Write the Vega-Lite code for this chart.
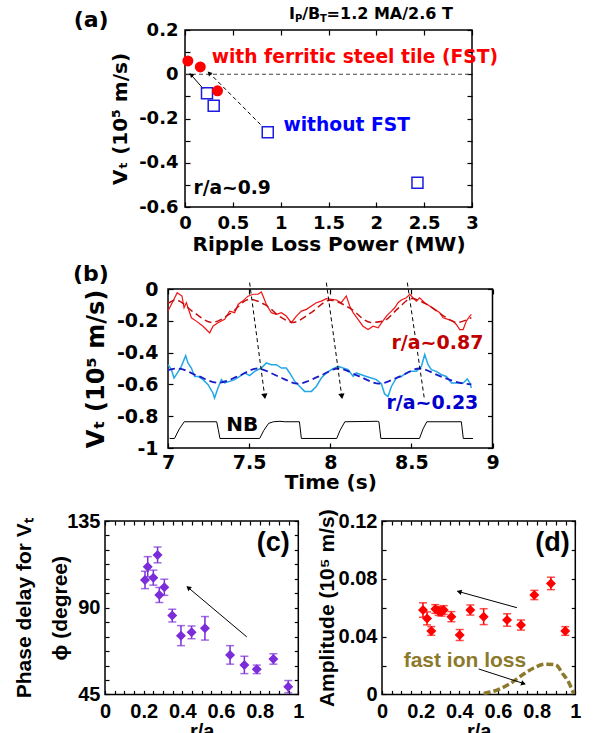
{
"$schema": "https://vega.github.io/schema/vega-lite/v6.json",
"background": "white",
"padding": {"left": 0, "top": 5, "right": 0, "bottom": 0},
"config": {
  "view": {"stroke": "black", "strokeWidth": 1.5},
  "axis": {"grid": false, "domain": false, "labelFont": "DejaVu Sans", "labelFontWeight": "bold", "labelColor": "black", "titleFont": "DejaVu Sans", "titleFontWeight": "bold", "titleColor": "black", "tickColor": "black", "tickWidth": 1.2, "labelFlush": false, "labelOverlap": false, "labelBound": false},
  "text": {"font": "DejaVu Sans", "fontWeight": "bold", "align": "left", "baseline": "middle"}
},
"datasets": {
  "a_fst": [{"x":0.03,"y":0.06},{"x":0.16,"y":0.033},{"x":0.34,"y":-0.075}],
  "a_nofst": [{"x":0.23,"y":-0.086},{"x":0.30,"y":-0.142},{"x":0.865,"y":-0.262},{"x":2.43,"y":-0.49}],
  "a_zero": [{"x":0,"x2":3,"y":0}],
  "a_arrow_solid": [{"x":0.19,"y":-0.065},{"x":0.05,"y":0.004}],
  "a_arrow_dashed": [{"x":0.80,"y":-0.232},{"x":0.245,"y":0.01}],
  "a_heads": [{"x":0.065,"y":-0.002},{"x":0.253,"y":0.005}],
  "a_t_panel": [{"x":-1.164,"y":0.245,"label":"(a)"}],
  "a_t_red": [{"x":0.279,"y":0.077,"label":"with ferritic steel tile (FST)"}],
  "a_t_blue": [{"x":1.029,"y":-0.229,"label":"without FST"}],
  "a_t_black": [{"x":0.088,"y":-0.514,"label":"r/a~0.9"}],
  "a_t_main": [{"x":1.088,"y":0.272,"label":"I"},{"x":1.225,"y":0.272,"label":"/B"},{"x":1.48,"y":0.272,"label":"=1.2 MA/2.6 T"}],
  "a_t_sub": [{"x":1.151,"y":0.25,"label":"P"},{"x":1.41,"y":0.25,"label":"T"}],
  "b_red": [{"x":7.0,"y":-0.139},{"x":7.057,"y":-0.023},{"x":7.086,"y":-0.044},{"x":7.099,"y":-0.118},{"x":7.113,"y":-0.086},{"x":7.144,"y":-0.181},{"x":7.174,"y":-0.202},{"x":7.216,"y":-0.234},{"x":7.257,"y":-0.276},{"x":7.277,"y":-0.234},{"x":7.308,"y":-0.212},{"x":7.349,"y":-0.191},{"x":7.38,"y":-0.139},{"x":7.411,"y":-0.149},{"x":7.432,"y":-0.097},{"x":7.46,"y":-0.076},{"x":7.493,"y":-0.045},{"x":7.524,"y":-0.033},{"x":7.555,"y":-0.033},{"x":7.575,"y":-0.019},{"x":7.586,"y":-0.044},{"x":7.606,"y":-0.097},{"x":7.637,"y":-0.149},{"x":7.668,"y":-0.16},{"x":7.699,"y":-0.149},{"x":7.729,"y":-0.17},{"x":7.76,"y":-0.212},{"x":7.791,"y":-0.17},{"x":7.822,"y":-0.139},{"x":7.853,"y":-0.128},{"x":7.884,"y":-0.107},{"x":7.914,"y":-0.086},{"x":7.945,"y":-0.076},{"x":7.976,"y":-0.061},{"x":8.007,"y":-0.065},{"x":8.038,"y":-0.069},{"x":8.068,"y":-0.086},{"x":8.099,"y":-0.044},{"x":8.12,"y":-0.107},{"x":8.141,"y":-0.149},{"x":8.171,"y":-0.191},{"x":8.202,"y":-0.234},{"x":8.233,"y":-0.255},{"x":8.264,"y":-0.234},{"x":8.295,"y":-0.244},{"x":8.315,"y":-0.215},{"x":8.346,"y":-0.17},{"x":8.377,"y":-0.139},{"x":8.397,"y":-0.118},{"x":8.418,"y":-0.086},{"x":8.438,"y":-0.069},{"x":8.469,"y":-0.055},{"x":8.49,"y":-0.033},{"x":8.51,"y":-0.055},{"x":8.531,"y":-0.076},{"x":8.551,"y":-0.055},{"x":8.582,"y":-0.086},{"x":8.613,"y":-0.107},{"x":8.644,"y":-0.128},{"x":8.675,"y":-0.149},{"x":8.695,"y":-0.181},{"x":8.726,"y":-0.191},{"x":8.757,"y":-0.202},{"x":8.777,"y":-0.223},{"x":8.798,"y":-0.255},{"x":8.819,"y":-0.255},{"x":8.839,"y":-0.202},{"x":8.86,"y":-0.17},{"x":8.87,"y":-0.16}],
  "b_redfit": [{"x":7.0,"y":-0.09},{"x":7.05,"y":-0.07},{"x":7.15,"y":-0.14},{"x":7.27,"y":-0.21},{"x":7.39,"y":-0.15},{"x":7.5,"y":-0.065},{"x":7.6,"y":-0.1},{"x":7.7,"y":-0.18},{"x":7.77,"y":-0.21},{"x":7.88,"y":-0.15},{"x":8.0,"y":-0.07},{"x":8.12,"y":-0.12},{"x":8.25,"y":-0.21},{"x":8.33,"y":-0.2},{"x":8.42,"y":-0.12},{"x":8.5,"y":-0.06},{"x":8.6,"y":-0.1},{"x":8.7,"y":-0.17},{"x":8.78,"y":-0.21},{"x":8.87,"y":-0.18}],
  "b_cyan": [{"x":7.0,"y":-0.476},{"x":7.021,"y":-0.507},{"x":7.037,"y":-0.56},{"x":7.051,"y":-0.539},{"x":7.078,"y":-0.497},{"x":7.099,"y":-0.444},{"x":7.109,"y":-0.419},{"x":7.123,"y":-0.465},{"x":7.144,"y":-0.497},{"x":7.164,"y":-0.55},{"x":7.185,"y":-0.55},{"x":7.216,"y":-0.57},{"x":7.247,"y":-0.602},{"x":7.277,"y":-0.654},{"x":7.287,"y":-0.686},{"x":7.308,"y":-0.623},{"x":7.329,"y":-0.57},{"x":7.349,"y":-0.591},{"x":7.38,"y":-0.581},{"x":7.411,"y":-0.57},{"x":7.442,"y":-0.55},{"x":7.472,"y":-0.528},{"x":7.503,"y":-0.545},{"x":7.534,"y":-0.518},{"x":7.575,"y":-0.497},{"x":7.606,"y":-0.465},{"x":7.637,"y":-0.476},{"x":7.668,"y":-0.476},{"x":7.699,"y":-0.497},{"x":7.729,"y":-0.497},{"x":7.75,"y":-0.528},{"x":7.781,"y":-0.581},{"x":7.812,"y":-0.613},{"x":7.842,"y":-0.644},{"x":7.884,"y":-0.644},{"x":7.914,"y":-0.613},{"x":7.945,"y":-0.56},{"x":7.976,"y":-0.528},{"x":8.007,"y":-0.507},{"x":8.048,"y":-0.486},{"x":8.079,"y":-0.497},{"x":8.11,"y":-0.507},{"x":8.141,"y":-0.55},{"x":8.161,"y":-0.528},{"x":8.192,"y":-0.539},{"x":8.223,"y":-0.55},{"x":8.253,"y":-0.56},{"x":8.284,"y":-0.57},{"x":8.315,"y":-0.596},{"x":8.335,"y":-0.66},{"x":8.356,"y":-0.676},{"x":8.377,"y":-0.613},{"x":8.407,"y":-0.56},{"x":8.438,"y":-0.55},{"x":8.469,"y":-0.528},{"x":8.5,"y":-0.518},{"x":8.531,"y":-0.518},{"x":8.562,"y":-0.486},{"x":8.582,"y":-0.412},{"x":8.603,"y":-0.476},{"x":8.623,"y":-0.507},{"x":8.654,"y":-0.518},{"x":8.685,"y":-0.539},{"x":8.716,"y":-0.55},{"x":8.747,"y":-0.591},{"x":8.788,"y":-0.591},{"x":8.819,"y":-0.591},{"x":8.845,"y":-0.566},{"x":8.86,"y":-0.591},{"x":8.87,"y":-0.623}],
  "b_bluefit": [{"x":7.0,"y":-0.51},{"x":7.06,"y":-0.5},{"x":7.18,"y":-0.545},{"x":7.31,"y":-0.59},{"x":7.43,"y":-0.55},{"x":7.55,"y":-0.5},{"x":7.68,"y":-0.55},{"x":7.8,"y":-0.595},{"x":7.93,"y":-0.55},{"x":8.05,"y":-0.5},{"x":8.18,"y":-0.55},{"x":8.3,"y":-0.595},{"x":8.43,"y":-0.55},{"x":8.55,"y":-0.5},{"x":8.68,"y":-0.55},{"x":8.8,"y":-0.59},{"x":8.87,"y":-0.6}],
  "b_nb": [{"x":7.01,"y":-0.94},{"x":7.04,"y":-0.94},{"x":7.07,"y":-0.88},{"x":7.1,"y":-0.835},{"x":7.3,"y":-0.835},{"x":7.31,"y":-0.885},{"x":7.32,"y":-0.94},{"x":7.565,"y":-0.94},{"x":7.59,"y":-0.89},{"x":7.62,"y":-0.845},{"x":7.65,"y":-0.835},{"x":7.69,"y":-0.832},{"x":7.72,"y":-0.835},{"x":7.81,"y":-0.835},{"x":7.822,"y":-0.94},{"x":8.04,"y":-0.94},{"x":8.06,"y":-0.89},{"x":8.09,"y":-0.835},{"x":8.29,"y":-0.832},{"x":8.3,"y":-0.835},{"x":8.312,"y":-0.94},{"x":8.55,"y":-0.94},{"x":8.572,"y":-0.88},{"x":8.595,"y":-0.835},{"x":8.808,"y":-0.835},{"x":8.82,"y":-0.94},{"x":8.88,"y":-0.94}],
  "b_arrows": [{"id":1,"x":7.503,"y":0.04},{"id":1,"x":7.598,"y":-0.69},{"id":2,"x":7.976,"y":0.04},{"id":2,"x":8.073,"y":-0.69},{"id":3,"x":8.475,"y":0.04},{"id":3,"x":8.58,"y":-0.69}],
  "b_heads": [{"x":7.596,"y":-0.675},{"x":8.071,"y":-0.675}],
  "b_t_panel": [{"x":6.414,"y":0.093,"label":"(b)"}],
  "b_t_red": [{"x":8.377,"y":-0.339,"label":"r/a~0.87"}],
  "b_t_blue": [{"x":8.346,"y":-0.718,"label":"r/a~0.23"}],
  "b_t_nb": [{"x":7.359,"y":-0.855,"label":"NB"}],
  "c_pts": [{"x":0.207,"y":104.4,"lo":99.9,"hi":108.9},{"x":0.221,"y":111.3,"lo":106.1,"hi":116.5},{"x":0.25,"y":105.6,"lo":101.7,"hi":109.5},{"x":0.272,"y":117.4,"lo":113.3,"hi":121.5},{"x":0.281,"y":96.6,"lo":92.7,"hi":100.5},{"x":0.307,"y":100.6,"lo":96.4,"hi":104.8},{"x":0.348,"y":85.9,"lo":82.6,"hi":89.2},{"x":0.393,"y":75.5,"lo":70.3,"hi":80.7},{"x":0.448,"y":77.2,"lo":73.9,"hi":80.5},{"x":0.517,"y":79.3,"lo":73.2,"hi":85.4},{"x":0.647,"y":65.5,"lo":60.7,"hi":70.3},{"x":0.721,"y":60.3,"lo":55.8,"hi":64.8},{"x":0.785,"y":58.0,"lo":55.8,"hi":60.2},{"x":0.871,"y":63.4,"lo":60.7,"hi":66.1},{"x":0.948,"y":49.0,"lo":45.8,"hi":52.2}],
  "c_arrow": [{"x":0.733,"y":74.9},{"x":0.425,"y":100.9}],
  "c_head": [{"x":0.431,"y":100.4}],
  "c_t_panel": [{"x":0.785,"y":123.4,"label":"(c)"}],
  "d_pts": [{"x":0.212,"y":0.0584,"lo":0.0534,"hi":0.0634},{"x":0.233,"y":0.0526,"lo":0.0481,"hi":0.0571},{"x":0.255,"y":0.0439,"lo":0.0409,"hi":0.0469},{"x":0.276,"y":0.0591,"lo":0.0561,"hi":0.0621},{"x":0.293,"y":0.0577,"lo":0.0547,"hi":0.0607},{"x":0.307,"y":0.0572,"lo":0.0542,"hi":0.0602},{"x":0.319,"y":0.0584,"lo":0.0554,"hi":0.0614},{"x":0.359,"y":0.0538,"lo":0.0503,"hi":0.0573},{"x":0.402,"y":0.0411,"lo":0.0373,"hi":0.0449},{"x":0.457,"y":0.0584,"lo":0.0549,"hi":0.0619},{"x":0.526,"y":0.0538,"lo":0.0483,"hi":0.0593},{"x":0.647,"y":0.0515,"lo":0.0472,"hi":0.0558},{"x":0.719,"y":0.048,"lo":0.0445,"hi":0.0515},{"x":0.788,"y":0.0688,"lo":0.0656,"hi":0.072},{"x":0.874,"y":0.0768,"lo":0.0725,"hi":0.0811},{"x":0.948,"y":0.0439,"lo":0.0409,"hi":0.0469}],
  "d_loss": [{"x":0.526,"y":0.0007},{"x":0.595,"y":0.003},{"x":0.664,"y":0.0076},{"x":0.733,"y":0.0141},{"x":0.785,"y":0.0183},{"x":0.845,"y":0.0209},{"x":0.897,"y":0.0205},{"x":0.936,"y":0.0141},{"x":0.966,"y":0.0083},{"x":0.992,"y":0.0003}],
  "d_arrow1": [{"x":0.698,"y":0.06},{"x":0.39,"y":0.0714}],
  "d_head1": [{"x":0.399,"y":0.0711}],
  "d_arrow2": [{"x":0.5,"y":0.0176},{"x":0.74,"y":0.0072}],
  "d_head2": [{"x":0.732,"y":0.0075}],
  "d_t_panel": [{"x":0.793,"y":0.1045,"label":"(d)"}],
  "d_t_loss": [{"x":0.112,"y":0.0231,"label":"fast ion loss"}]
},
"spacing": 15,
"vconcat": [
  {"spacing": 7, "vconcat": [
    {"spacing": 0, "hconcat": [
      {"width": 72, "height": 10, "view": {"stroke": null}, "data": {"values": []}, "mark": "point", "encoding": {}},
      {
        "width": 287, "height": 177,
        "encoding": {
          "x": {"field": "x", "type": "quantitative", "scale": {"domain": [0, 3], "nice": false, "zero": false}, "axis": null},
          "y": {"field": "y", "type": "quantitative", "scale": {"domain": [-0.6, 0.2], "nice": false, "zero": false}, "axis": null}
        },
        "layer": [
          {"data": {"name": "a_zero"}, "mark": {"type": "rule", "color": "#444444", "strokeWidth": 1, "strokeDash": [4, 3]}, "encoding": {"x2": {"field": "x2"}}},
          {"data": {"name": "a_arrow_solid"}, "mark": {"type": "line", "color": "black", "strokeWidth": 1}},
          {"data": {"name": "a_arrow_dashed"}, "mark": {"type": "line", "color": "black", "strokeWidth": 1, "strokeDash": [4, 3]}},
          {"data": {"name": "a_heads"}, "mark": {"type": "point", "shape": "triangle-up", "filled": true, "color": "black", "opacity": 1, "size": 25, "angle": 315}},
          {"data": {"name": "a_nofst"}, "mark": {"type": "point", "shape": "square", "filled": false, "color": "#1c1ce0", "opacity": 1, "size": 121, "strokeWidth": 1.5},
           "encoding": {
             "x": {"field": "x", "type": "quantitative", "scale": {"domain": [0, 3], "nice": false, "zero": false}, "axis": {"orient": "top", "values": [0, 0.5, 1, 1.5, 2, 2.5, 3], "labels": false, "tickSize": -5, "title": null}},
             "y": {"field": "y", "type": "quantitative", "scale": {"domain": [-0.6, 0.2], "nice": false, "zero": false}, "axis": {"orient": "right", "values": [-0.6, -0.5, -0.4, -0.3, -0.2, -0.1, 0, 0.1, 0.2], "labels": false, "tickSize": -5, "title": null}}
           }},
          {"data": {"name": "a_fst"}, "mark": {"type": "circle", "color": "#ff0000", "opacity": 1, "size": 120},
           "encoding": {
             "x": {"field": "x", "type": "quantitative", "scale": {"domain": [0, 3], "nice": false, "zero": false}, "axis": {"orient": "bottom", "values": [0, 0.5, 1, 1.5, 2, 2.5, 3], "labelExpr": "toString(datum.value)", "labelFontSize": 18, "tickSize": -5, "labelPadding": 12, "title": "Ripple Loss Power (MW)", "titleFontSize": 20, "titlePadding": 2}},
             "y": {"field": "y", "type": "quantitative", "scale": {"domain": [-0.6, 0.2], "nice": false, "zero": false}, "axis": {"orient": "left", "values": [-0.6, -0.5, -0.4, -0.3, -0.2, -0.1, 0, 0.1, 0.2], "labelExpr": "round(datum.value*10) % 2 == 0 ? toString(datum.value) : ''", "labelFontSize": 18, "tickSize": -5, "labelPadding": 12, "title": "Vₜ (10⁵ m/s)", "titleFontSize": 20, "titlePadding": 8}}
           }},
          {"data": {"name": "a_t_panel"}, "mark": {"type": "text", "fontSize": 22, "color": "black"}, "encoding": {"text": {"field": "label"}}},
          {"data": {"name": "a_t_red"}, "mark": {"type": "text", "fontSize": 18.7, "color": "#ff0000"}, "encoding": {"text": {"field": "label"}}},
          {"data": {"name": "a_t_blue"}, "mark": {"type": "text", "fontSize": 18.7, "color": "#0000ff"}, "encoding": {"text": {"field": "label"}}},
          {"data": {"name": "a_t_black"}, "mark": {"type": "text", "fontSize": 18.7, "color": "black"}, "encoding": {"text": {"field": "label"}}},
          {"data": {"name": "a_t_main"}, "mark": {"type": "text", "fontSize": 16, "color": "black"}, "encoding": {"text": {"field": "label"}}},
          {"data": {"name": "a_t_sub"}, "mark": {"type": "text", "fontSize": 10, "color": "black"}, "encoding": {"text": {"field": "label"}}}
        ]
      }
    ]},
    {"spacing": 0, "hconcat": [
      {"width": 71.7, "height": 10, "view": {"stroke": null}, "data": {"values": []}, "mark": "point", "encoding": {}},
      {
        "width": 324.5, "height": 159,
        "encoding": {
          "x": {"field": "x", "type": "quantitative", "scale": {"domain": [7, 9], "nice": false, "zero": false}, "axis": null},
          "y": {"field": "y", "type": "quantitative", "scale": {"domain": [-1, 0], "nice": false, "zero": false}, "axis": null}
        },
        "layer": [
          {"data": {"name": "b_nb"}, "mark": {"type": "line", "color": "black", "strokeWidth": 1},
           "encoding": {
             "x": {"field": "x", "type": "quantitative", "scale": {"domain": [7, 9], "nice": false, "zero": false}, "axis": {"orient": "bottom", "values": [7, 7.5, 8, 8.5, 9], "labelExpr": "toString(datum.value)", "labelFontSize": 19, "tickSize": -5, "labelPadding": 10, "title": "Time (s)", "titleFontSize": 20, "titlePadding": 0}},
             "y": {"field": "y", "type": "quantitative", "scale": {"domain": [-1, 0], "nice": false, "zero": false}, "axis": {"orient": "left", "values": [-1, -0.8, -0.6, -0.4, -0.2, 0], "labelExpr": "toString(datum.value)", "labelFontSize": 19, "tickSize": -5, "labelPadding": 15, "title": "Vₜ (10⁵ m/s)", "titleFontSize": 24, "titlePadding": 8}}
           }},
          {"data": {"name": "b_red"}, "mark": {"type": "line", "color": "#f01414", "strokeWidth": 1.2},
           "encoding": {
             "x": {"field": "x", "type": "quantitative", "scale": {"domain": [7, 9], "nice": false, "zero": false}, "axis": {"orient": "top", "values": [7, 7.5, 8, 8.5, 9], "labels": false, "tickSize": -5, "title": null}},
             "y": {"field": "y", "type": "quantitative", "scale": {"domain": [-1, 0], "nice": false, "zero": false}, "axis": {"orient": "right", "values": [-1, -0.8, -0.6, -0.4, -0.2, 0], "labels": false, "tickSize": -5, "title": null}}
           }},
          {"data": {"name": "b_redfit"}, "mark": {"type": "line", "color": "#c41010", "strokeWidth": 1.5, "strokeDash": [7, 4], "interpolate": "monotone"}},
          {"data": {"name": "b_cyan"}, "mark": {"type": "line", "color": "#22a8e8", "strokeWidth": 1.5}},
          {"data": {"name": "b_bluefit"}, "mark": {"type": "line", "color": "#1a1ac8", "strokeWidth": 1.8, "strokeDash": [7, 4], "interpolate": "monotone"}},
          {"data": {"name": "b_arrows"}, "mark": {"type": "line", "color": "black", "strokeWidth": 1, "strokeDash": [4, 3]}, "encoding": {"detail": {"field": "id", "type": "nominal"}}},
          {"data": {"name": "b_heads"}, "mark": {"type": "point", "shape": "triangle-up", "filled": true, "color": "black", "opacity": 1, "size": 40, "angle": 172}},
          {"data": {"name": "b_t_panel"}, "mark": {"type": "text", "fontSize": 22, "color": "black"}, "encoding": {"text": {"field": "label"}}},
          {"data": {"name": "b_t_red"}, "mark": {"type": "text", "fontSize": 19, "color": "#c00000"}, "encoding": {"text": {"field": "label"}}},
          {"data": {"name": "b_t_blue"}, "mark": {"type": "text", "fontSize": 19, "color": "#0000cc"}, "encoding": {"text": {"field": "label"}}},
          {"data": {"name": "b_t_nb"}, "mark": {"type": "text", "fontSize": 20, "color": "black"}, "encoding": {"text": {"field": "label"}}}
        ]
      }
    ]}
  ]},
  {"spacing": 0, "hconcat": [
    {"width": 12, "height": 10, "view": {"stroke": null}, "data": {"values": []}, "mark": "point", "encoding": {}},
    {"spacing": 10, "hconcat": [
    {
      "width": 193.3, "height": 173.4,
      "encoding": {
        "x": {"field": "x", "type": "quantitative", "scale": {"domain": [0, 1], "nice": false, "zero": false}, "axis": null},
        "y": {"field": "y", "type": "quantitative", "scale": {"domain": [45, 135], "nice": false, "zero": false}, "axis": null}
      },
      "layer": [
        {"data": {"name": "c_arrow"}, "mark": {"type": "line", "color": "black", "strokeWidth": 1}},
        {"data": {"name": "c_head"}, "mark": {"type": "point", "shape": "triangle-up", "filled": true, "color": "black", "opacity": 1, "size": 30, "angle": 310}},
        {"data": {"name": "c_pts"}, "mark": {"type": "rule", "color": "#7a2dd8", "strokeWidth": 1.5},
         "encoding": {
           "x": {"field": "x", "type": "quantitative", "scale": {"domain": [0, 1], "nice": false, "zero": false}, "axis": {"orient": "top", "values": [0, 0.05, 0.1, 0.15, 0.2, 0.25, 0.3, 0.35, 0.4, 0.45, 0.5, 0.55, 0.6, 0.65, 0.7, 0.75, 0.8, 0.85, 0.9, 0.95, 1], "labels": false, "tickSize": -4, "title": null}},
           "y": {"field": "lo", "type": "quantitative", "scale": {"domain": [45, 135], "nice": false, "zero": false}, "axis": {"orient": "right", "values": [45, 52.5, 60, 67.5, 75, 82.5, 90, 97.5, 105, 112.5, 120, 127.5, 135], "labels": false, "tickSize": -4, "title": null}},
           "y2": {"field": "hi"}
         }},
        {"data": {"name": "c_pts"}, "mark": {"type": "tick", "orient": "horizontal", "color": "#7a2dd8", "size": 8, "thickness": 1.5}, "encoding": {"y": {"field": "lo", "type": "quantitative", "scale": {"domain": [45, 135], "nice": false, "zero": false}, "axis": null}}},
        {"data": {"name": "c_pts"}, "mark": {"type": "tick", "orient": "horizontal", "color": "#7a2dd8", "size": 8, "thickness": 1.5}, "encoding": {"y": {"field": "hi", "type": "quantitative", "scale": {"domain": [45, 135], "nice": false, "zero": false}, "axis": null}}},
        {"data": {"name": "c_pts"}, "mark": {"type": "point", "shape": "diamond", "filled": true, "color": "#7a2dd8", "opacity": 1, "size": 100},
         "encoding": {
           "x": {"field": "x", "type": "quantitative", "scale": {"domain": [0, 1], "nice": false, "zero": false}, "axis": {"orient": "bottom", "values": [0, 0.05, 0.1, 0.15, 0.2, 0.25, 0.3, 0.35, 0.4, 0.45, 0.5, 0.55, 0.6, 0.65, 0.7, 0.75, 0.8, 0.85, 0.9, 0.95, 1], "labelExpr": "round(datum.value*100) % 20 == 0 ? toString(datum.value) : ''", "labelFont": "Liberation Sans", "labelFontSize": 20, "tickSize": -4, "labelPadding": 11, "title": "r/a", "titleFont": "Liberation Sans", "titleFontSize": 20, "titlePadding": 0}},
           "y": {"field": "y", "type": "quantitative", "scale": {"domain": [45, 135], "nice": false, "zero": false}, "axis": {"orient": "left", "values": [45, 52.5, 60, 67.5, 75, 82.5, 90, 97.5, 105, 112.5, 120, 127.5, 135], "labelExpr": "datum.value % 45 == 0 ? toString(datum.value) : ''", "labelFont": "Liberation Sans", "labelFontSize": 20, "tickSize": -4, "labelPadding": 9, "title": ["Phase delay for Vₜ", "ϕ (degree)"], "titleFont": "Liberation Sans", "titleFontSize": 21, "titleLineHeight": 36, "titlePadding": -4}}
         }},
        {"data": {"name": "c_t_panel"}, "mark": {"type": "text", "font": "Liberation Sans", "fontSize": 27, "color": "black"}, "encoding": {"text": {"field": "label"}}}
      ]
    },
    {
      "width": 193.3, "height": 173.4,
      "encoding": {
        "x": {"field": "x", "type": "quantitative", "scale": {"domain": [0, 1], "nice": false, "zero": false}, "axis": null},
        "y": {"field": "y", "type": "quantitative", "scale": {"domain": [0, 0.12], "nice": false, "zero": false}, "axis": null}
      },
      "layer": [
        {"data": {"name": "d_loss"}, "mark": {"type": "line", "color": "#8c7a2c", "strokeWidth": 3.5, "strokeDash": [7, 3], "interpolate": "monotone"}},
        {"data": {"name": "d_arrow1"}, "mark": {"type": "line", "color": "black", "strokeWidth": 1}},
        {"data": {"name": "d_head1"}, "mark": {"type": "point", "shape": "triangle-up", "filled": true, "color": "black", "opacity": 1, "size": 30, "angle": 285}},
        {"data": {"name": "d_arrow2"}, "mark": {"type": "line", "color": "black", "strokeWidth": 1}},
        {"data": {"name": "d_head2"}, "mark": {"type": "point", "shape": "triangle-up", "filled": true, "color": "black", "opacity": 1, "size": 30, "angle": 108}},
        {"data": {"name": "d_pts"}, "mark": {"type": "rule", "color": "#ff0000", "strokeWidth": 1.5},
         "encoding": {
           "x": {"field": "x", "type": "quantitative", "scale": {"domain": [0, 1], "nice": false, "zero": false}, "axis": {"orient": "top", "values": [0, 0.05, 0.1, 0.15, 0.2, 0.25, 0.3, 0.35, 0.4, 0.45, 0.5, 0.55, 0.6, 0.65, 0.7, 0.75, 0.8, 0.85, 0.9, 0.95, 1], "labels": false, "tickSize": -4, "title": null}},
           "y": {"field": "lo", "type": "quantitative", "scale": {"domain": [0, 0.12], "nice": false, "zero": false}, "axis": {"orient": "right", "values": [0, 0.02, 0.04, 0.06, 0.08, 0.1, 0.12], "labels": false, "tickSize": -4, "title": null}},
           "y2": {"field": "hi"}
         }},
        {"data": {"name": "d_pts"}, "mark": {"type": "tick", "orient": "horizontal", "color": "#ff0000", "size": 8, "thickness": 1.5}, "encoding": {"y": {"field": "lo", "type": "quantitative", "scale": {"domain": [0, 0.12], "nice": false, "zero": false}, "axis": null}}},
        {"data": {"name": "d_pts"}, "mark": {"type": "tick", "orient": "horizontal", "color": "#ff0000", "size": 8, "thickness": 1.5}, "encoding": {"y": {"field": "hi", "type": "quantitative", "scale": {"domain": [0, 0.12], "nice": false, "zero": false}, "axis": null}}},
        {"data": {"name": "d_pts"}, "mark": {"type": "point", "shape": "diamond", "filled": true, "color": "#ff0000", "opacity": 1, "size": 100},
         "encoding": {
           "x": {"field": "x", "type": "quantitative", "scale": {"domain": [0, 1], "nice": false, "zero": false}, "axis": {"orient": "bottom", "values": [0, 0.05, 0.1, 0.15, 0.2, 0.25, 0.3, 0.35, 0.4, 0.45, 0.5, 0.55, 0.6, 0.65, 0.7, 0.75, 0.8, 0.85, 0.9, 0.95, 1], "labelExpr": "round(datum.value*100) % 20 == 0 ? toString(datum.value) : ''", "labelFont": "Liberation Sans", "labelFontSize": 20, "tickSize": -4, "labelPadding": 11, "title": "r/a", "titleFont": "Liberation Sans", "titleFontSize": 20, "titlePadding": 0}},
           "y": {"field": "y", "type": "quantitative", "scale": {"domain": [0, 0.12], "nice": false, "zero": false}, "axis": {"orient": "left", "values": [0, 0.02, 0.04, 0.06, 0.08, 0.1, 0.12], "labelExpr": "round(datum.value*100) % 4 == 0 ? toString(datum.value) : ''", "labelFont": "Liberation Sans", "labelFontSize": 20, "tickSize": -4, "labelPadding": 9, "title": "Amplitude (10⁵ m/s)", "titleFont": "Liberation Sans", "titleFontSize": 21, "titlePadding": 1}}
         }},
        {"data": {"name": "d_t_panel"}, "mark": {"type": "text", "font": "Liberation Sans", "fontSize": 27, "color": "black"}, "encoding": {"text": {"field": "label"}}},
        {"data": {"name": "d_t_loss"}, "mark": {"type": "text", "font": "Liberation Sans", "fontSize": 21, "color": "#8c7a2c"}, "encoding": {"text": {"field": "label"}}}
      ]
    }
    ]}
  ]}
]
}
